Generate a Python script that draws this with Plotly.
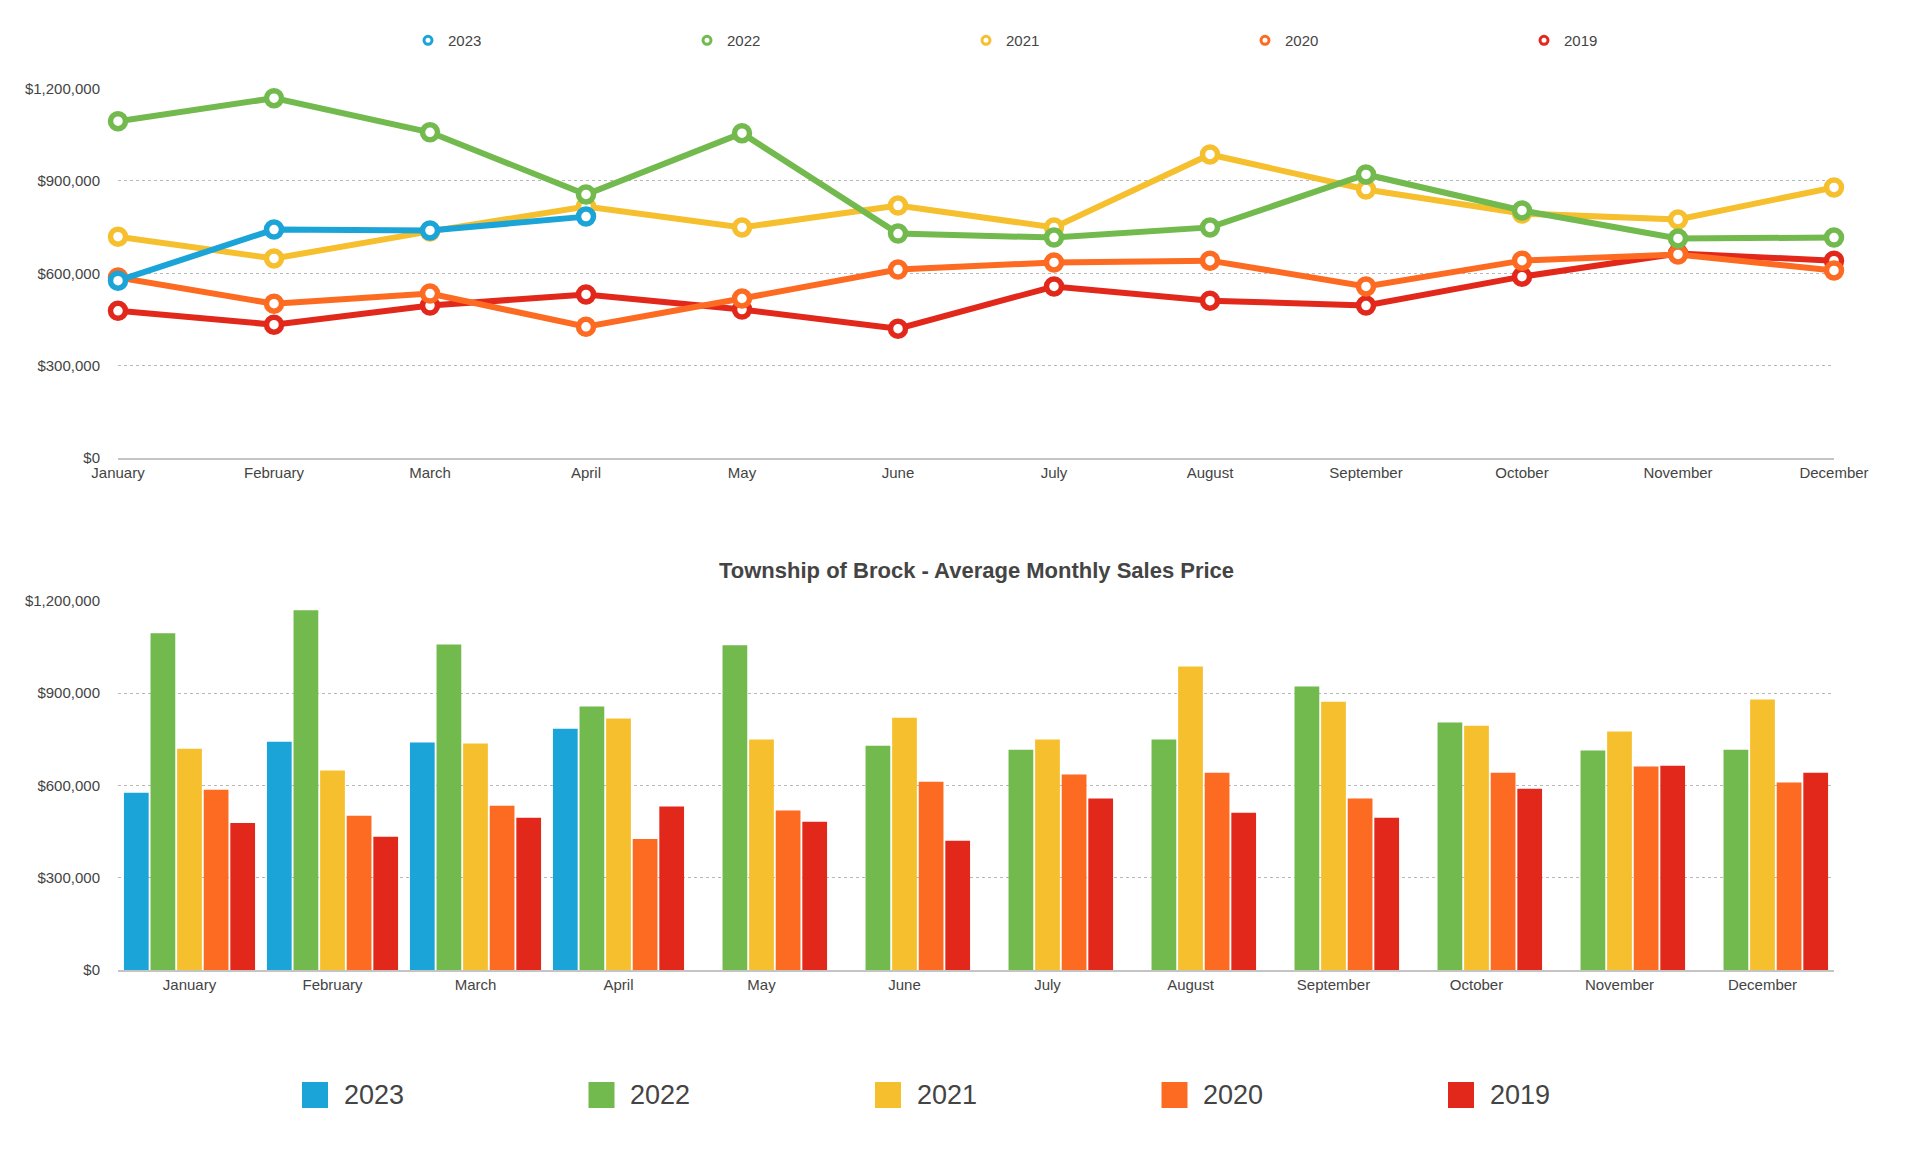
import plotly.graph_objects as go

months = ["January", "February", "March", "April", "May", "June", "July",
          "August", "September", "October", "November", "December"]
years = ["2023", "2022", "2021", "2020", "2019"]

price_2023 = [576000, 742000, 739000, 784000, None, None, None, None, None, None, None, None]
price_2022 = [1094000, 1169000, 1058000, 856000, 1055000, 729000, 716000, 749000, 921000, 804000, 713000, 716000]
price_2021 = [719000, 648000, 736000, 817000, 749000, 820000, 749000, 986000, 872000, 794000, 775000, 879000]
price_2020 = [586000, 501000, 534000, 426000, 518000, 612000, 635000, 641000, 557000, 641000, 661000, 609000]
price_2019 = [478000, 433000, 495000, 531000, 482000, 420000, 557000, 511000, 495000, 589000, 664000, 641000]

y_tick_vals = [0, 300000, 600000, 900000, 1200000]
y_tick_text = ["$0", "$300,000", "$600,000", "$900,000", "$1,200,000"]
chart_title = "Township of Brock - Average Monthly Sales Price"

series = {"2023": price_2023, "2022": price_2022, "2021": price_2021,
          "2020": price_2020, "2019": price_2019}
colors = {"2023": "#1ba4d7", "2022": "#72b94e", "2021": "#f5bf2e",
          "2020": "#fd6a22", "2019": "#e1281b"}

W, H = 1930, 1156
FONT = "Liberation Sans, Arial, Helvetica, sans-serif"
TXT = "#444444"

fig = go.Figure()

# ---- top: line chart (2019 drawn first so 2023 ends on top)
for yr in reversed(years):
    fig.add_trace(go.Scatter(
        x=months, y=series[yr], name=yr, legendgroup=yr, showlegend=False,
        mode="lines+markers", cliponaxis=False, connectgaps=False,
        line=dict(color=colors[yr], width=6),
        marker=dict(size=15, color="white", line=dict(color=colors[yr], width=5.5)),
        xaxis="x", yaxis="y"))
# legend entries (marker only) for the top chart
for rank, yr in enumerate(years):
    fig.add_trace(go.Scatter(
        x=[None], y=[None], name=yr, legendgroup=yr, legendrank=rank + 1,
        mode="markers",
        marker=dict(size=8, color="white", line=dict(color=colors[yr], width=3)),
        xaxis="x", yaxis="y"))

# ---- bottom: grouped bars
for yr in years:
    fig.add_trace(go.Bar(
        x=months, y=series[yr], name=yr, showlegend=False,
        marker=dict(color=colors[yr], line=dict(width=0)),
        xaxis="x2", yaxis="y2"))

xdom = [118 / W, 1834 / W]
top_dom = [1 - 457.9 / H, 1 - 88.6 / H]
bot_dom = [1 - 970.0 / H, 1 - 600.7 / H]

yaxis_common = dict(
    range=[0, 1200000], tickmode="array", tickvals=y_tick_vals, ticktext=y_tick_text,
    showgrid=True, gridcolor="#b8b8b8", griddash="dot", gridwidth=1,
    zeroline=False, showline=False, ticks="outside", ticklen=14,
    tickcolor="rgba(0,0,0,0)", tickfont=dict(size=15, color=TXT, family=FONT),
    automargin=False, fixedrange=True)
xaxis_common = dict(
    type="category", showgrid=False, zeroline=False, showline=True,
    linecolor="#c4c4c4", linewidth=1.5, ticks="",
    tickfont=dict(size=15, color=TXT, family=FONT), automargin=False,
    fixedrange=True)

# bottom legend drawn as coloured squares with labels
shapes = []
annotations = []
leg_x0 = 302
leg_step = 286.5
for i, yr in enumerate(years):
    x0 = leg_x0 + i * leg_step
    shapes.append(dict(type="rect", xref="paper", yref="paper",
                       x0=x0 / W, x1=(x0 + 26) / W,
                       y0=1 - 1108 / H, y1=1 - 1082 / H,
                       fillcolor=colors[yr], line=dict(width=0)))
    annotations.append(dict(text=yr, xref="paper", yref="paper",
                            x=(x0 + 39.5) / W, y=1 - 1095 / H,
                            xanchor="left", yanchor="middle", showarrow=False,
                            font=dict(size=27, color=TXT, family=FONT)))

annotations.append(dict(text="<b>" + chart_title + "</b>", xref="paper", yref="paper",
                        x=(xdom[0] + xdom[1]) / 2, y=1 - 570 / H,
                        xanchor="center", yanchor="middle", showarrow=False,
                        font=dict(size=22, color=TXT, family=FONT)))

fig.update_layout(
    template="none",
    width=W, height=H,
    margin=dict(l=0, r=0, t=0, b=0),
    paper_bgcolor="white", plot_bgcolor="white",
    font=dict(family=FONT, color=TXT),
    barmode="group", bargap=0.07, bargroupgap=0.07,
    xaxis=dict(domain=xdom, anchor="y", range=[0, 11], **xaxis_common),
    yaxis=dict(domain=top_dom, anchor="x", **yaxis_common),
    xaxis2=dict(domain=xdom, anchor="y2", range=[-0.5, 11.5], **xaxis_common),
    yaxis2=dict(domain=bot_dom, anchor="x2", **yaxis_common),
    showlegend=True,
    legend=dict(orientation="h", x=408 / W, xanchor="left",
                y=1 - 40.6 / H, yanchor="middle",
                entrywidth=234, entrywidthmode="pixels",
                font=dict(size=15, color=TXT, family=FONT),
                bgcolor="rgba(0,0,0,0)", borderwidth=0),
    shapes=shapes,
    annotations=annotations,
    hovermode="closest",
)

fig.write_html("out.html", config={"displayModeBar": False},
               post_script="document.body.style.margin='0';")
